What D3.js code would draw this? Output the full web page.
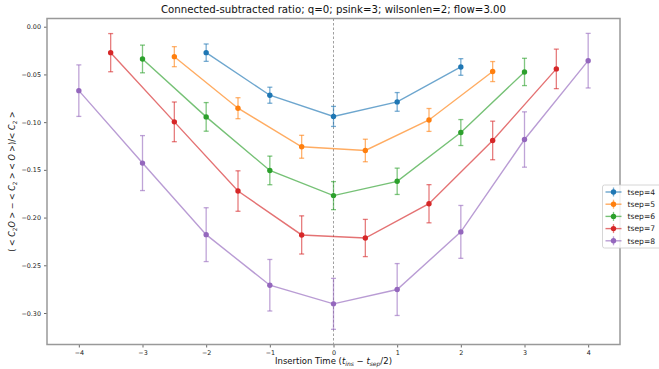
<!DOCTYPE html>
<html>
<head>
<meta charset="utf-8">
<script src="https://cdn.jsdelivr.net/npm/d3@7"></script>
<style>
  body { margin: 0; background: #fff; }
  svg { font-family: "DejaVu Sans", sans-serif; }
</style>
</head>
<body>
<div id="chart"></div>
<script>
// series labels and colours (matplotlib tab10)
const seriesNames = ["tsep=4", "tsep=5", "tsep=6", "tsep=7", "tsep=8"];
const colors = ["#1f77b4", "#ff7f0e", "#2ca02c", "#d62728", "#9467bd"];

// insertion times per tsep
const xTsep4 = [-2, -1, 0, 1, 2];
const xTsep5 = [-2.5, -1.5, -0.5, 0.5, 1.5, 2.5];
const xTsep6 = [-3, -2, -1, 0, 1, 2, 3];
const xTsep7 = [-3.5, -2.5, -1.5, -0.5, 0.5, 1.5, 2.5, 3.5];
const xTsep8 = [-4, -3, -2, -1, 0, 1, 2, 3, 4];

// ratio values
const yTsep4 = [-0.0272, -0.0718, -0.0940, -0.0788, -0.0422];
const yTsep5 = [-0.0314, -0.0854, -0.1258, -0.1297, -0.0977, -0.0470];
const yTsep6 = [-0.0338, -0.0945, -0.1506, -0.1770, -0.1620, -0.1109, -0.0474];
const yTsep7 = [-0.0272, -0.0997, -0.1722, -0.2182, -0.2214, -0.1855, -0.1192, -0.0442];
const yTsep8 = [-0.0670, -0.1429, -0.2179, -0.2709, -0.2904, -0.2754, -0.2150, -0.1182, -0.0356];

// error bars
const eTsep4 = [0.0091, 0.0084, 0.0105, 0.0098, 0.0087];
const eTsep5 = [0.0105, 0.0110, 0.0120, 0.0118, 0.0120, 0.0105];
const eTsep6 = [0.0145, 0.0150, 0.0150, 0.0147, 0.0138, 0.0136, 0.0143];
const eTsep7 = [0.0200, 0.0208, 0.0212, 0.0200, 0.0195, 0.0200, 0.0202, 0.0207];
const eTsep8 = [0.0270, 0.0288, 0.0282, 0.0270, 0.0267, 0.0272, 0.0277, 0.0290, 0.0286];

const xTicks = [-4, -3, -2, -1, 0, 1, 2, 3, 4];
const yTicks = [0, -0.05, -0.10, -0.15, -0.20, -0.25, -0.30];

const xs = [xTsep4, xTsep5, xTsep6, xTsep7, xTsep8];
const ys = [yTsep4, yTsep5, yTsep6, yTsep7, yTsep8];
const es = [eTsep4, eTsep5, eTsep6, eTsep7, eTsep8];
const series = seriesNames.map((name, i) => ({
  name: name,
  color: colors[i],
  points: xs[i].map((x, j) => ({x: x, y: ys[i][j], e: es[i][j]}))
}));

const W = 659, H = 369;
const margin = {top: 18.5, right: 39, bottom: 24.5, left: 47};
const width = W - margin.left - margin.right;
const height = H - margin.top - margin.bottom;

const svg = d3.select("#chart").append("svg")
  .attr("width", W).attr("height", H);

const xScale = d3.scaleLinear().domain([-4.5, 4.5]).range([0, width]);
const yScale = d3.scaleLinear().domain([-0.333, 0.0086]).range([height, 0]);

const g = svg.append("g")
  .attr("transform", `translate(${margin.left},${margin.top})`);

// dashed line at t=0
g.append("line")
  .attr("x1", xScale(0)).attr("x2", xScale(0))
  .attr("y1", 0).attr("y2", height)
  .attr("stroke", "#777").attr("stroke-width", 0.7)
  .attr("stroke-dasharray", "2.5,2");

const line = d3.line()
  .x(d => xScale(d.x))
  .y(d => yScale(d.y));

series.forEach(s => {
  const sg = g.append("g").attr("class", "series");
  sg.append("path")
    .datum(s.points)
    .attr("d", line)
    .attr("fill", "none")
    .attr("stroke", s.color)
    .attr("stroke-opacity", 0.65)
    .attr("stroke-width", 1.4);

  const eb = sg.selectAll("g.err").data(s.points).enter().append("g")
    .attr("class", "err")
    .attr("stroke", s.color)
    .attr("stroke-opacity", 0.6)
    .attr("stroke-width", 1.3);
  eb.append("line")
    .attr("x1", d => xScale(d.x)).attr("x2", d => xScale(d.x))
    .attr("y1", d => yScale(d.y - d.e)).attr("y2", d => yScale(d.y + d.e));
  eb.append("line")
    .attr("x1", d => xScale(d.x) - 2.5).attr("x2", d => xScale(d.x) + 2.5)
    .attr("y1", d => yScale(d.y + d.e)).attr("y2", d => yScale(d.y + d.e));
  eb.append("line")
    .attr("x1", d => xScale(d.x) - 2.5).attr("x2", d => xScale(d.x) + 2.5)
    .attr("y1", d => yScale(d.y - d.e)).attr("y2", d => yScale(d.y - d.e));

  sg.selectAll("circle").data(s.points).enter().append("circle")
    .attr("cx", d => xScale(d.x))
    .attr("cy", d => yScale(d.y))
    .attr("r", 2.7)
    .attr("fill", s.color);
});

// axes
const fmt = d => d3.format(".2f")(d).replace("-", "\u2212");
const xAxis = g.append("g")
  .attr("transform", `translate(0,${height})`)
  .call(d3.axisBottom(xScale).tickValues(xTicks).tickSize(3).tickPadding(3)
    .tickFormat(d => String(d).replace("-", "\u2212")));
const yAxis = g.append("g")
  .call(d3.axisLeft(yScale).tickValues(yTicks).tickSize(3).tickPadding(3).tickFormat(fmt));

[xAxis, yAxis].forEach(a => {
  a.select(".domain").remove();
  a.selectAll(".tick line").attr("stroke", "#444").attr("stroke-width", 0.8);
  a.selectAll(".tick text").attr("fill", "#222")
    .style("font-family", "DejaVu Sans").style("font-size", "6.4px");
});

// frame
g.append("rect")
  .attr("x", 0).attr("y", 0).attr("width", width).attr("height", height)
  .attr("fill", "none").attr("stroke", "#999").attr("stroke-width", 1.5);

// title
svg.append("text")
  .attr("x", margin.left + width / 2).attr("y", 13)
  .attr("text-anchor", "middle")
  .style("font-size", "10.2px").attr("fill", "#111")
  .text("Connected-subtracted ratio; q=0; psink=3; wilsonlen=2; flow=3.00");

// x label
const xl = svg.append("text")
  .attr("x", margin.left + width / 2).attr("y", 364)
  .attr("text-anchor", "middle")
  .style("font-size", "8.5px").attr("fill", "#111");
xl.append("tspan").text("Insertion Time (");
xl.append("tspan").style("font-style", "italic").text("t");
xl.append("tspan").style("font-style", "italic").style("font-size", "6px").attr("dy", 1.5).text("ins");
xl.append("tspan").attr("dy", -1.5).text(" \u2212 ");
xl.append("tspan").style("font-style", "italic").text("t");
xl.append("tspan").style("font-style", "italic").style("font-size", "6px").attr("dy", 1.5).text("sep");
xl.append("tspan").attr("dy", -1.5).text("/2)");

// y label
const yl = svg.append("text")
  .attr("transform", `translate(15,${margin.top + height / 2}) rotate(-90)`)
  .attr("text-anchor", "middle")
  .style("font-size", "8px").attr("fill", "#111");
const sub2 = () => {
  yl.append("tspan").style("font-size", "5.8px").attr("dy", 1.5).text("2");
};
yl.append("tspan").text("( < ");
yl.append("tspan").style("font-style", "italic").text("C");
sub2();
yl.append("tspan").attr("dy", -1.5).style("font-style", "italic").text("O");
yl.append("tspan").text(" > \u2212 < ");
yl.append("tspan").style("font-style", "italic").text("C");
sub2();
yl.append("tspan").attr("dy", -1.5).text(" > < ");
yl.append("tspan").style("font-style", "italic").text("O");
yl.append("tspan").text(" >)/< ");
yl.append("tspan").style("font-style", "italic").text("C");
sub2();
yl.append("tspan").attr("dy", -1.5).text(" >");

// legend (runs off the right edge, as in the reference)
const leg = svg.append("g").attr("transform", "translate(602.5,185)");
leg.append("rect")
  .attr("x", 0).attr("y", 0).attr("width", 70).attr("height", 63)
  .attr("rx", 2)
  .attr("fill", "#fff").attr("fill-opacity", 0.85)
  .attr("stroke", "#ccc").attr("stroke-width", 0.8);
series.forEach((s, i) => {
  const row = leg.append("g").attr("transform", `translate(0,${7 + i * 12.2})`);
  row.append("line").attr("x1", 3).attr("x2", 19).attr("y1", 0).attr("y2", 0)
    .attr("stroke", s.color).attr("stroke-opacity", 0.65).attr("stroke-width", 1.4);
  row.append("line").attr("x1", 11).attr("x2", 11).attr("y1", -4.5).attr("y2", 4.5)
    .attr("stroke", s.color).attr("stroke-opacity", 0.6).attr("stroke-width", 1.3);
  row.append("circle").attr("cx", 11).attr("cy", 0).attr("r", 2.7).attr("fill", s.color);
  row.append("text").attr("x", 25).attr("y", 2.7)
    .style("font-size", "7.6px").attr("fill", "#222").text(s.name);
});
</script>
</body>
</html>
